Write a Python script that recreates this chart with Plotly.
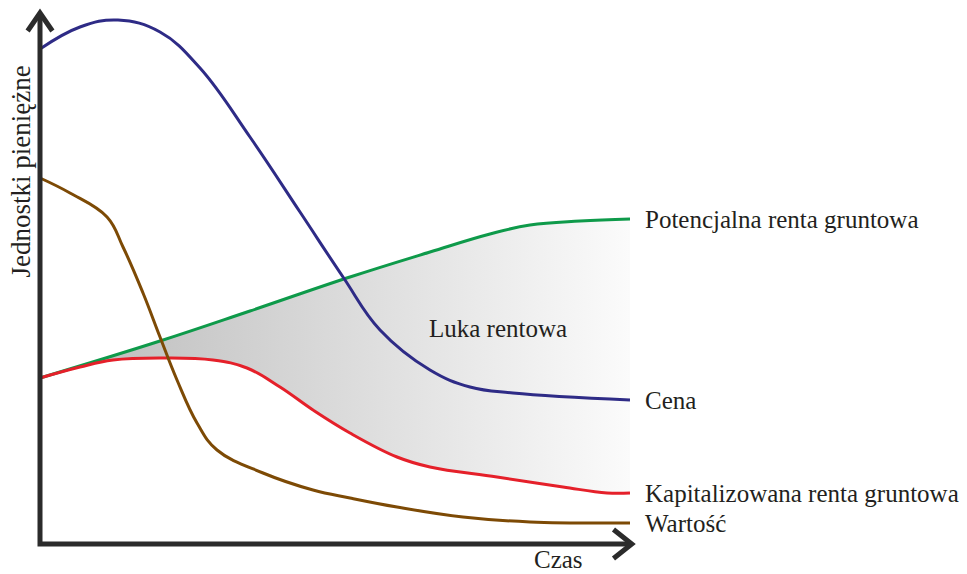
import plotly.graph_objects as go

# ---- data (time t, money m) ----
cena_t = [0, 0.678, 1.322, 2.034, 2.712, 3.559, 4.407, 5.136, 5.763, 6.610, 7.288, 8.017, 10]
cena_m = [9.90, 10.34, 10.48, 10.24, 9.52, 8.14, 6.64, 5.34, 4.28, 3.48, 3.14, 3.02, 2.88]

pot_t = [0, 2.034, 3.559, 5.254, 6.610, 7.627, 8.305, 9.153, 10]
pot_m = [3.32, 4.06, 4.66, 5.34, 5.84, 6.20, 6.38, 6.46, 6.50]

kap_t = [0, 0.678, 1.237, 2.085, 2.932, 3.508, 4.068, 4.627, 5.254, 6.051, 6.610, 7.746, 8.864, 9.610, 10]
kap_m = [3.32, 3.54, 3.68, 3.72, 3.68, 3.52, 3.14, 2.68, 2.22, 1.74, 1.54, 1.34, 1.14, 1.02, 1.02]

war_t = [0, 0.508, 1.136, 1.407, 1.746, 2.034, 2.322, 2.661, 3.0, 3.780, 4.627, 5.254, 6.051, 7.169, 8.305, 10]
war_m = [7.32, 7.02, 6.54, 5.94, 5.02, 4.14, 3.28, 2.42, 1.88, 1.42, 1.08, 0.92, 0.74, 0.54, 0.44, 0.42]

series_labels = ["Potencjalna renta gruntowa", "Cena", "Kapitalizowana renta gruntowa", "Wartość"]
gap_label = "Luka rentowa"
x_title = "Czas"
y_title = "Jednostki pieniężne"

# ---- styling ----
C_BLUE = "#2e2b86"
C_GREEN = "#0e9a4a"
C_RED = "#e5202a"
C_BROWN = "#7d4a05"
C_AXIS = "#2b2b2b"
C_TEXT = "#231f20"
FONT = "Liberation Serif"
FS = 25
LW = 3
SM = 1.15

X_END = 10.03     # x-axis arrow tip
Y_END = 10.62     # y-axis arrow tip

fig = go.Figure()

# fill base (Kapitalizowana) and gradient fill up to Potencjalna
fig.add_trace(go.Scatter(x=kap_t, y=kap_m, mode="lines", line=dict(width=0, shape="spline", smoothing=SM),
                         hoverinfo="skip", showlegend=False))
fig.add_trace(go.Scatter(x=pot_t, y=pot_m, mode="lines", line=dict(width=0, shape="spline", smoothing=SM),
                         fill="tonexty",
                         fillgradient=dict(type="horizontal",
                                           colorscale=[[0, "#b9b9b9"], [1, "#fbfbfb"]]),
                         hoverinfo="skip", showlegend=False))

# curves
fig.add_trace(go.Scatter(x=pot_t, y=pot_m, mode="lines", line=dict(color=C_GREEN, width=LW, shape="spline", smoothing=SM), showlegend=False))
fig.add_trace(go.Scatter(x=kap_t, y=kap_m, mode="lines", line=dict(color=C_RED, width=LW, shape="spline", smoothing=SM), showlegend=False))
fig.add_trace(go.Scatter(x=cena_t, y=cena_m, mode="lines", line=dict(color=C_BLUE, width=LW, shape="spline", smoothing=SM), showlegend=False))
fig.add_trace(go.Scatter(x=war_t, y=war_m, mode="lines", line=dict(color=C_BROWN, width=LW, shape="spline", smoothing=SM), showlegend=False))

# axes with chevron arrows
fig.add_shape(type="path", xref="x", yref="y",
              path=f"M 0 {Y_END} L 0 0 L {X_END} 0",
              line=dict(color=C_AXIS, width=5), layer="above")
fig.add_shape(type="path", xref="x", yref="y",
              path=f"M -0.21 {Y_END-0.36} L 0 {Y_END} L 0.21 {Y_END-0.36}",
              line=dict(color=C_AXIS, width=5), layer="above")
fig.add_shape(type="path", xref="x", yref="y",
              path=f"M {X_END-0.31} 0.29 L {X_END} 0 L {X_END-0.31} -0.29",
              line=dict(color=C_AXIS, width=5), layer="above")

# labels at the line ends
ends = [(pot_t[-1], pot_m[-1]), (cena_t[-1], cena_m[-1]), (kap_t[-1], kap_m[-1]), (war_t[-1], war_m[-1])]
for lab, (tx, my) in zip(series_labels, ends):
    fig.add_annotation(x=tx + 0.22, y=my, text=lab, showarrow=False, xanchor="left", yanchor="middle",
                       font=dict(family=FONT, size=FS, color=C_TEXT))

fig.add_annotation(x=7.76, y=4.32, text=gap_label, showarrow=False,
                   font=dict(family=FONT, size=FS, color=C_TEXT))
fig.add_annotation(x=8.78, y=-0.31, text=x_title, showarrow=False,
                   font=dict(family=FONT, size=FS, color=C_TEXT))
fig.add_annotation(x=-0.33, y=7.44, text=y_title, showarrow=False, textangle=-90,
                   font=dict(family=FONT, size=27, color=C_TEXT))

fig.update_layout(
    width=967, height=574,
    margin=dict(l=0, r=0, t=0, b=0),
    paper_bgcolor="white", plot_bgcolor="white",
    xaxis=dict(range=[-40 / 59, 927 / 59], visible=False, fixedrange=True),
    yaxis=dict(range=[-0.6, 10.88], visible=False, fixedrange=True),
    showlegend=False,
)

fig.write_html("out.html", config={"displayModeBar": False},
               post_script="document.body.style.margin='0';")
